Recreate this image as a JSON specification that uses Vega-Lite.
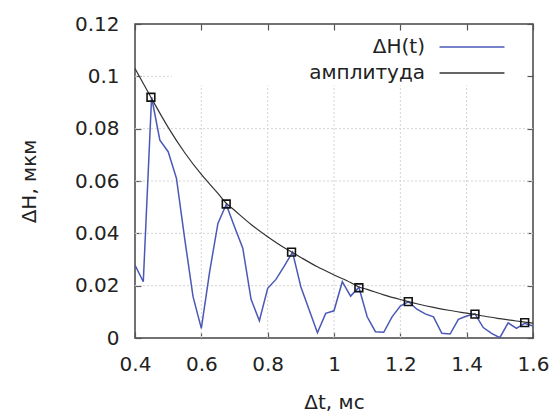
{
  "$schema": "https://vega.github.io/schema/vega-lite/v6.json",
  "width": 398,
  "height": 314,
  "autosize": "none",
  "padding": {"left": 135, "top": 24, "right": 22, "bottom": 74},
  "background": "white",
  "config": {
    "font": "DejaVu Sans",
    "view": {"stroke": "#444", "strokeWidth": 1.5},
    "axis": {
      "labelFont": "DejaVu Sans", "labelFontSize": 20, "labelColor": "#222", "labelFlush": false, "labelOverlap": false,
      "titleFont": "DejaVu Sans", "titleFontSize": 20, "titleFontWeight": "normal", "titleColor": "#222",
      "domain": false, "tickColor": "#555", "tickWidth": 1.2, "tickSize": -6, "grid": false
    },
    "legend": {"labelFont": "DejaVu Sans", "labelFontSize": 20, "labelColor": "#222"}
  },
  "datasets": {
    "signal": [
      {"t": 0.4, "h": 0.0279, "series": "ΔH(t)"},
      {"t": 0.425, "h": 0.0215, "series": "ΔH(t)"},
      {"t": 0.45, "h": 0.092, "series": "ΔH(t)"},
      {"t": 0.475, "h": 0.0756, "series": "ΔH(t)"},
      {"t": 0.5, "h": 0.0712, "series": "ΔH(t)"},
      {"t": 0.525, "h": 0.061, "series": "ΔH(t)"},
      {"t": 0.55, "h": 0.0378, "series": "ΔH(t)"},
      {"t": 0.575, "h": 0.0158, "series": "ΔH(t)"},
      {"t": 0.6, "h": 0.0037, "series": "ΔH(t)"},
      {"t": 0.625, "h": 0.0253, "series": "ΔH(t)"},
      {"t": 0.65, "h": 0.0438, "series": "ΔH(t)"},
      {"t": 0.675, "h": 0.051, "series": "ΔH(t)"},
      {"t": 0.7, "h": 0.0425, "series": "ΔH(t)"},
      {"t": 0.725, "h": 0.0343, "series": "ΔH(t)"},
      {"t": 0.75, "h": 0.0148, "series": "ΔH(t)"},
      {"t": 0.775, "h": 0.0066, "series": "ΔH(t)"},
      {"t": 0.8, "h": 0.019, "series": "ΔH(t)"},
      {"t": 0.825, "h": 0.0224, "series": "ΔH(t)"},
      {"t": 0.85, "h": 0.0275, "series": "ΔH(t)"},
      {"t": 0.875, "h": 0.0328, "series": "ΔH(t)"},
      {"t": 0.9, "h": 0.0196, "series": "ΔH(t)"},
      {"t": 0.925, "h": 0.0108, "series": "ΔH(t)"},
      {"t": 0.95, "h": 0.002, "series": "ΔH(t)"},
      {"t": 0.975, "h": 0.0094, "series": "ΔH(t)"},
      {"t": 1.0, "h": 0.0104, "series": "ΔH(t)"},
      {"t": 1.025, "h": 0.0215, "series": "ΔH(t)"},
      {"t": 1.05, "h": 0.016, "series": "ΔH(t)"},
      {"t": 1.075, "h": 0.0194, "series": "ΔH(t)"},
      {"t": 1.1, "h": 0.0081, "series": "ΔH(t)"},
      {"t": 1.125, "h": 0.0024, "series": "ΔH(t)"},
      {"t": 1.15, "h": 0.0022, "series": "ΔH(t)"},
      {"t": 1.175, "h": 0.0081, "series": "ΔH(t)"},
      {"t": 1.2, "h": 0.0122, "series": "ΔH(t)"},
      {"t": 1.225, "h": 0.0139, "series": "ΔH(t)"},
      {"t": 1.25, "h": 0.011, "series": "ΔH(t)"},
      {"t": 1.275, "h": 0.0092, "series": "ΔH(t)"},
      {"t": 1.3, "h": 0.0081, "series": "ΔH(t)"},
      {"t": 1.325, "h": 0.0018, "series": "ΔH(t)"},
      {"t": 1.35, "h": 0.0015, "series": "ΔH(t)"},
      {"t": 1.375, "h": 0.0071, "series": "ΔH(t)"},
      {"t": 1.4, "h": 0.0084, "series": "ΔH(t)"},
      {"t": 1.425, "h": 0.0092, "series": "ΔH(t)"},
      {"t": 1.45, "h": 0.004, "series": "ΔH(t)"},
      {"t": 1.475, "h": 0.0018, "series": "ΔH(t)"},
      {"t": 1.5, "h": 0.0001, "series": "ΔH(t)"},
      {"t": 1.525, "h": 0.0058, "series": "ΔH(t)"},
      {"t": 1.55, "h": 0.0037, "series": "ΔH(t)"},
      {"t": 1.575, "h": 0.0056, "series": "ΔH(t)"},
      {"t": 1.6, "h": 0.0046, "series": "ΔH(t)"}
    ],
    "amp": [
      {"t": 0.4, "h": 0.103, "series": "амплитуда"},
      {"t": 0.448, "h": 0.092, "series": "амплитуда"},
      {"t": 0.5, "h": 0.0805, "series": "амплитуда"},
      {"t": 0.55, "h": 0.0708, "series": "амплитуда"},
      {"t": 0.6, "h": 0.0625, "series": "амплитуда"},
      {"t": 0.65, "h": 0.0553, "series": "амплитуда"},
      {"t": 0.675, "h": 0.0515, "series": "амплитуда"},
      {"t": 0.7, "h": 0.0488, "series": "амплитуда"},
      {"t": 0.75, "h": 0.0434, "series": "амплитуда"},
      {"t": 0.8, "h": 0.0387, "series": "амплитуда"},
      {"t": 0.85, "h": 0.0345, "series": "амплитуда"},
      {"t": 0.872, "h": 0.0329, "series": "амплитуда"},
      {"t": 0.9, "h": 0.0308, "series": "амплитуда"},
      {"t": 0.95, "h": 0.0272, "series": "амплитуда"},
      {"t": 1.0, "h": 0.0241, "series": "амплитуда"},
      {"t": 1.05, "h": 0.0212, "series": "амплитуда"},
      {"t": 1.075, "h": 0.0195, "series": "амплитуда"},
      {"t": 1.1, "h": 0.0186, "series": "амплитуда"},
      {"t": 1.15, "h": 0.0165, "series": "амплитуда"},
      {"t": 1.2, "h": 0.0147, "series": "амплитуда"},
      {"t": 1.224, "h": 0.0139, "series": "амплитуда"},
      {"t": 1.25, "h": 0.0131, "series": "амплитуда"},
      {"t": 1.3, "h": 0.0117, "series": "амплитуда"},
      {"t": 1.35, "h": 0.0105, "series": "амплитуда"},
      {"t": 1.4, "h": 0.0095, "series": "амплитуда"},
      {"t": 1.425, "h": 0.009, "series": "амплитуда"},
      {"t": 1.45, "h": 0.0084, "series": "амплитуда"},
      {"t": 1.5, "h": 0.0074, "series": "амплитуда"},
      {"t": 1.55, "h": 0.0065, "series": "амплитуда"},
      {"t": 1.575, "h": 0.0061, "series": "амплитуда"},
      {"t": 1.6, "h": 0.0057, "series": "амплитуда"}
    ],
    "marks": [
      {"t": 0.448, "h": 0.092},
      {"t": 0.675, "h": 0.0512},
      {"t": 0.872, "h": 0.0328},
      {"t": 1.075, "h": 0.0192},
      {"t": 1.224, "h": 0.0139},
      {"t": 1.425, "h": 0.0091},
      {"t": 1.575, "h": 0.0059}
    ],
    "vgrid": [{"g": 0.6}, {"g": 0.8}, {"g": 1.0}, {"g": 1.2}, {"g": 1.4}],
    "hgrid": [{"g": 0.02}, {"g": 0.04}, {"g": 0.06}, {"g": 0.08}]
  },
  "layer": [
    {
      "data": {"name": "vgrid"},
      "mark": {"type": "rule", "color": "#d4d4d4", "strokeDash": [2, 2], "strokeWidth": 1},
      "encoding": {
        "x": {"field": "g", "type": "quantitative", "axis": null},
        "y": {"datum": 0, "type": "quantitative", "axis": null},
        "y2": {"datum": 0.0966}
      }
    },
    {
      "data": {"name": "hgrid"},
      "mark": {"type": "rule", "color": "#d4d4d4", "strokeDash": [2, 2], "strokeWidth": 1},
      "encoding": {
        "y": {"field": "g", "type": "quantitative", "axis": null},
        "x": {"datum": 0.4, "type": "quantitative", "axis": null},
        "x2": {"datum": 1.6}
      }
    },
    {
      "data": {"values": [{}]},
      "mark": {"type": "rule", "color": "#d4d4d4", "strokeDash": [2, 2], "strokeWidth": 1},
      "encoding": {
        "y": {"datum": 0.1, "type": "quantitative", "axis": null},
        "x": {"datum": 0.4, "type": "quantitative", "axis": null},
        "x2": {"datum": 0.511}
      }
    },
    {
      "data": {"name": "signal"},
      "mark": {"type": "line", "strokeWidth": 1.5, "clip": true},
      "encoding": {
        "x": {"field": "t", "type": "quantitative", "scale": {"domain": [0.4, 1.6], "nice": false, "zero": false},
              "axis": {"orient": "bottom", "title": "Δt, мс", "values": [0.4, 0.6, 0.8, 1.0, 1.2, 1.4, 1.6], "format": ".2~g", "labelPadding": 22, "titlePadding": 18}},
        "y": {"field": "h", "type": "quantitative", "scale": {"domain": [0, 0.12], "nice": false},
              "axis": {"orient": "left", "title": "ΔH, мкм", "values": [0, 0.02, 0.04, 0.06, 0.08, 0.1, 0.12], "format": ".2~g", "labelPadding": 22, "titlePadding": 35}},
        "color": {"field": "series", "type": "nominal",
                  "scale": {"domain": ["ΔH(t)", "амплитуда"], "range": ["#4a58b6", "#333333"]},
                  "legend": {"title": null, "orient": "none", "legendX": 327, "legendY": 13, "padding": 0,
                             "symbolType": "M-6,0H6", "symbolSize": 117, "symbolStrokeWidth": 1.5,
                             "labelAlign": "right", "labelOffset": -57, "rowPadding": 6}}
      }
    },
    {
      "data": {"name": "amp"},
      "mark": {"type": "line", "strokeWidth": 1.2, "interpolate": "monotone", "clip": true},
      "encoding": {
        "x": {"field": "t", "type": "quantitative",
              "axis": {"orient": "top", "title": null, "labels": false, "values": [0.4, 0.6, 0.8, 1.0, 1.2, 1.4, 1.6]}},
        "y": {"field": "h", "type": "quantitative",
              "axis": {"orient": "right", "title": null, "labels": false, "values": [0, 0.02, 0.04, 0.06, 0.08, 0.1, 0.12]}},
        "color": {"field": "series", "type": "nominal"}
      }
    },
    {
      "data": {"name": "marks"},
      "mark": {"type": "point", "shape": "square", "filled": false, "size": 60, "strokeWidth": 1.6, "color": "#111", "opacity": 1},
      "encoding": {
        "x": {"field": "t", "type": "quantitative", "axis": null},
        "y": {"field": "h", "type": "quantitative", "axis": null}
      }
    }
  ]
}
